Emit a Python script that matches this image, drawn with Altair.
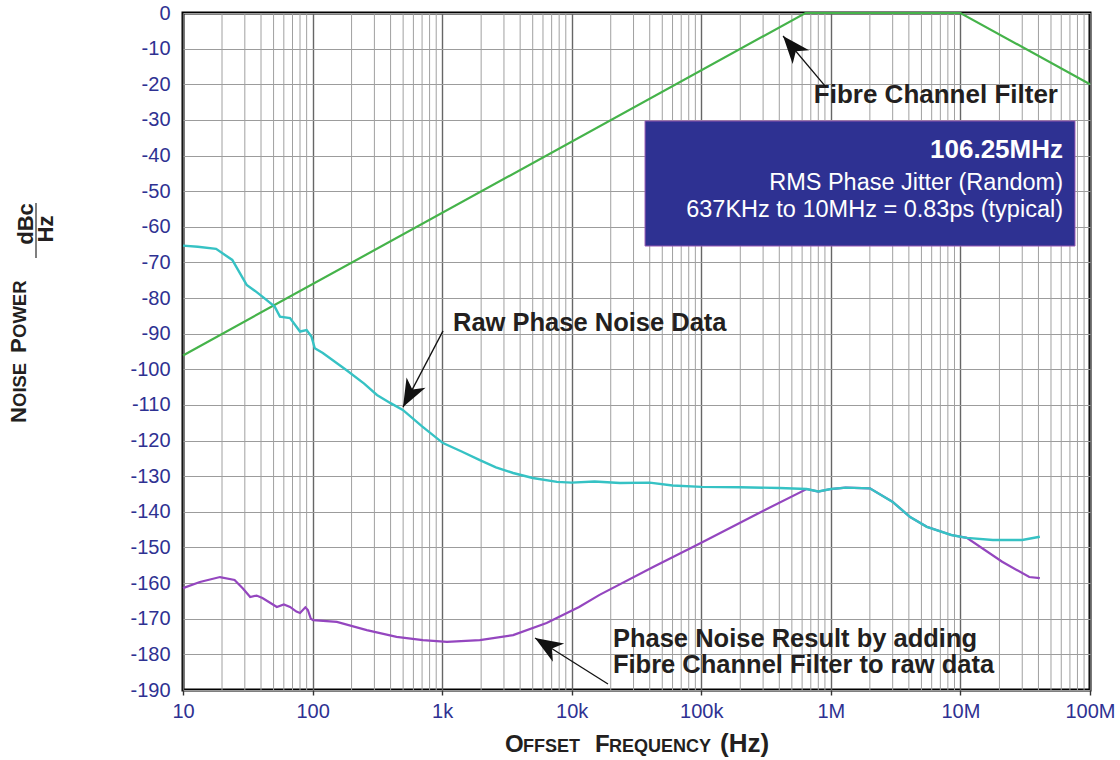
import altair as alt
import pandas as pd

# ---- series: offset frequency (Hz) and level (dBc/Hz) ----
filter_freq = [10, 637e3, 10e6, 100e6]
filter_db = [-96.1, 0.0, 0.0, -20.0]

raw_freq = [10, 13, 18, 24, 31, 36, 41, 51, 56, 67, 80, 90, 98, 104, 120,
            182, 250, 314, 400, 497, 700, 1015, 1400, 1955, 2600, 3530, 5000, 7700,
            10e3, 15e3, 23.6e3, 40e3, 60e3, 100e3, 200e3, 400e3, 650e3, 800e3,
            1.0e6, 1.3e6, 2.0e6, 3.0e6, 4.07e6, 5.5e6, 8.5e6, 11.2e6, 17.8e6, 30e6, 41e6]
raw_db = [-65.3, -65.6, -66.2, -69.3, -76.3, -78.0, -79.6, -82.4, -85.2, -85.6, -89.4,
          -89.0, -90.8, -94.1, -95.4, -100.2, -104.0, -107.2, -109.5,
          -111.4, -116.0, -120.7, -123.0, -125.5, -127.5, -129.1, -130.5, -131.6,
          -131.8, -131.5, -131.9, -131.8, -132.6, -133.0, -133.1, -133.3, -133.6,
          -134.3, -133.6, -133.2, -133.4, -137.2, -141.4, -144.2, -146.5, -147.3,
          -147.9, -147.9, -147.0]

result_freq = [10, 13.5, 19.3, 25, 29, 33, 37, 41, 47, 53, 60, 67, 75, 80, 88, 92, 97,
               101, 154, 262, 445, 710, 1090, 1955, 3530, 6400, 11.4e3, 16.4e3, 42.5e3,
               100e3, 279e3, 650e3, 800e3, 1.0e6, 1.3e6, 2.0e6, 3.0e6, 4.07e6, 5.5e6,
               8.5e6, 11.2e6, 21e6, 34e6, 41e6]
result_db = [-161.4, -159.7, -158.3, -159.1, -161.5, -163.9, -163.5, -164.2, -165.5,
             -166.7, -166.0, -166.7, -168.0, -168.4, -166.8, -167.6, -170.0, -170.4,
             -170.9, -173.2, -175.1, -176.0, -176.5, -176.0, -174.6, -171.2, -166.7,
             -163.3, -155.5, -148.7, -140.3, -133.6, -134.3, -133.6, -133.2, -133.4,
             -137.2, -141.4, -144.2, -146.5, -147.3, -154.0, -158.3, -158.6]

# ---- axes ----
decade_ticks = [10, 100, 1e3, 1e4, 1e5, 1e6, 1e7, 1e8]
decade_labels = ["10", "100", "1k", "10k", "100k", "1M", "10M", "100M"]
minor_ticks = [m * 10 ** e for e in range(1, 8) for m in range(2, 10)]
db_ticks = list(range(-190, 1, 10))

# ---- annotations ----
note_left = ["Raw Phase Noise Data", "Phase Noise Result by adding",
             "Fibre Channel Filter to raw data"]
note_left_freq = [1213, 20.8e3, 20.8e3]
note_left_db = [-89.2, -177.9, -185.2]

note_right = ["Fibre Channel Filter"]
note_right_freq = [56.6e6]
note_right_db = [-25.3]

arrow_tip_freq = [427.6e3, 499, 5210]
arrow_tip_db = [-6.45, -110.6, -175.4]
arrow_tail_freq = [918e3, 1016, 19.05e3]
arrow_tail_db = [-20.8, -89.2, -188.3]
arrow_angle = [320, 208, 302]

box_freq = [36.8e3, 76.6e6]
box_db = [-30.3, -65.4]
box_title = "106.25MHz"
box_lines = ["RMS Phase Jitter (Random)", "637KHz to 10MHz = 0.83ps (typical)"]
box_text_freq = 61.9e6
box_title_db = -40.7
box_lines_db = [-49.7, -57.3]

FONT = "Liberation Sans"
INK = "#231f20"
NAVY = "#2e3192"

x_scale = alt.Scale(type="log", domain=[10, 1e8], nice=False)
y_scale = alt.Scale(domain=[-190, 0], nice=False, zero=False)

label_expr = " : ".join(
    f"datum.value == {int(v)} ? '{l}'" for v, l in zip(decade_ticks, decade_labels)
) + " : ''"

x_axis = alt.Axis(values=decade_ticks, labelExpr=label_expr, title=None, grid=True,
                  gridColor="#666666", gridWidth=1.4, domain=False, ticks=True,
                  tickSize=5, tickColor="#333333", tickWidth=1.4, labelFont=FONT,
                  labelFontSize=20, labelColor=NAVY, labelPadding=6,
                  labelFlush=False, labelOverlap=False)
y_axis = alt.Axis(values=db_ticks, labelExpr="'' + datum.value", title=None, grid=True,
                  gridColor="#9c9c9c", gridWidth=1.2, domain=False, ticks=False,
                  labelFont=FONT, labelFontSize=20, labelColor=NAVY, labelPadding=13,
                  labelFlush=False, labelOverlap=False)


# every layer carries the same scale and axis so they merge into one
def xs(field):
    return alt.X(field, type="quantitative", scale=x_scale, axis=x_axis)


def ys(field):
    return alt.Y(field, type="quantitative", scale=y_scale, axis=y_axis)


# minor log gridlines
minor_grid = alt.Chart(pd.DataFrame({"f": minor_ticks})).mark_rule(
    color="#a0a0a0", strokeWidth=1
).encode(x=xs("f"))

filter_line = alt.Chart(pd.DataFrame({"f": filter_freq, "db": filter_db})).mark_line(
    color="#45b34a", strokeWidth=2.2
).encode(x=xs("f"), y=ys("db"))

result_line = alt.Chart(pd.DataFrame({"f": result_freq, "db": result_db})).mark_line(
    color="#9446bf", strokeWidth=2.2
).encode(x=xs("f"), y=ys("db"))

raw_line = alt.Chart(pd.DataFrame({"f": raw_freq, "db": raw_db})).mark_line(
    color="#36c2c4", strokeWidth=2.4
).encode(x=xs("f"), y=ys("db"))

# jitter summary box
box = alt.Chart(pd.DataFrame({"f1": [box_freq[0]], "f2": [box_freq[1]],
                              "d1": [box_db[0]], "d2": [box_db[1]]})).mark_rect(
    fill=NAVY, stroke="#9a5ab4", strokeWidth=1
).encode(x=xs("f1"), x2="f2", y=ys("d1"), y2="d2")

box_head = alt.Chart(pd.DataFrame({"f": [box_text_freq], "db": [box_title_db],
                                   "t": [box_title]})).mark_text(
    font=FONT, fontSize=26, fontWeight="bold", color="white", align="right",
    baseline="alphabetic"
).encode(x=xs("f"), y=ys("db"), text="t:N")

box_body = alt.Chart(pd.DataFrame({"f": [box_text_freq] * 2, "db": box_lines_db,
                                   "t": box_lines})).mark_text(
    font=FONT, fontSize=23.5, color="white", align="right", baseline="alphabetic"
).encode(x=xs("f"), y=ys("db"), text="t:N")

notes_l = alt.Chart(pd.DataFrame({"f": note_left_freq, "db": note_left_db,
                                  "t": note_left})).mark_text(
    font=FONT, fontSize=25.5, fontWeight="bold", color=INK, align="left",
    baseline="alphabetic"
).encode(x=xs("f"), y=ys("db"), text="t:N")

notes_r = alt.Chart(pd.DataFrame({"f": note_right_freq, "db": note_right_db,
                                  "t": note_right})).mark_text(
    font=FONT, fontSize=26, fontWeight="bold", color=INK, align="right",
    baseline="alphabetic"
).encode(x=xs("f"), y=ys("db"), text="t:N")

arrows = pd.DataFrame({"tip_f": arrow_tip_freq, "tip_db": arrow_tip_db,
                       "tail_f": arrow_tail_freq, "tail_db": arrow_tail_db,
                       "angle": arrow_angle})

arrow_shafts = alt.Chart(arrows).mark_rule(color="#111111", strokeWidth=1.3).encode(
    x=xs("tail_f"), x2="tip_f", y=ys("tail_db"), y2="tip_db"
)

# arrowhead drawn with its point at the symbol origin
arrow_heads = alt.Chart(arrows).mark_point(
    shape="M0,0L0.62,1.6L0,1.15L-0.62,1.6Z", filled=True, size=1200,
    color="#111111", opacity=1
).encode(x=xs("tip_f"), y=ys("tip_db"), angle=alt.Angle("angle:Q", scale=None))

one = pd.DataFrame({"k": [0]})


def piece(text, x, y, size, angle=0, align="left"):
    return alt.Chart(one).mark_text(
        text=text, font=FONT, fontSize=size, fontWeight="bold", color=INK,
        align=align, baseline="alphabetic", angle=angle
    ).encode(x=alt.value(x), y=alt.value(y))


# small-caps axis titles built from separate runs
x_title = [
    piece("O", 322, 739, 24),
    piece("FFSET", 340, 739, 18),
    piece("F", 412, 739, 24),
    piece("REQUENCY", 426, 739, 18),
    piece("(Hz)", 537, 739, 26),
]
y_title = [
    piece("N", -157, 410, 22, angle=270),
    piece("OISE", -157, 394, 18.5, angle=270),
    piece("P", -157, 340, 22, angle=270),
    piece("OWER", -157, 325, 18.5, angle=270),
    piece("dBc", -150, 211, 22, angle=270, align="center"),
    piece("Hz", -130, 216, 22, angle=270, align="center"),
]
fraction_bar = alt.Chart(one).mark_rule(color="#555555", strokeWidth=1.5).encode(
    x=alt.value(-147), y=alt.value(190), y2=alt.value(245)
)

chart = alt.layer(
    minor_grid, filter_line, result_line, raw_line,
    box, box_head, box_body, notes_l, notes_r, arrow_shafts, arrow_heads,
    *x_title, *y_title, fraction_bar,
).properties(
    width=907, height=677,
    background="white",
    autosize=alt.AutoSizeParams(type="none"),
    padding={"left": 183, "top": 13, "right": 30, "bottom": 70},
).configure_view(
    stroke="black", strokeWidth=3
)

chart.save("out.html", embed_options={"renderer": "svg", "actions": False})
